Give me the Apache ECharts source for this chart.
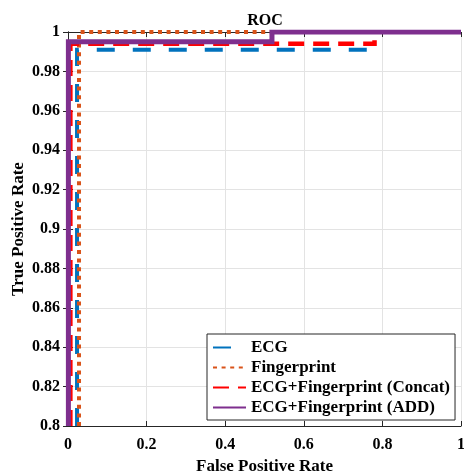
<!DOCTYPE html>
<html>
<head>
<meta charset="utf-8">
<script src="https://cdn.jsdelivr.net/npm/echarts@6/dist/echarts.min.js"></script>
<style>
  html, body { margin: 0; padding: 0; background: #fff; }
  #main { width: 464px; height: 471px; }
</style>
</head>
<body>
<div id="main"></div>
<script>
// ROC curves, points as [FPR, TPR]
const ecg = [[0.023, 0.8], [0.023, 0.991], [0.776, 0.991], [0.776, 0.9925]];
const fingerprint = [[0.028, 0.8], [0.028, 1], [1, 1]];
const concat = [[0.006, 0.8], [0.006, 0.994], [0.78, 0.994], [0.78, 0.9958]];
const added = [[0.001, 0.8], [0.001, 0.995], [0.519, 0.995], [0.519, 1], [1, 1]];

const seriesNames = ['ECG', 'Fingerprint', 'ECG+Fingerprint (Concat)', 'ECG+Fingerprint (ADD)'];
const xTicks = [0, 0.2, 0.4, 0.6, 0.8, 1];

const font = 'Liberation Serif';
const axisCol = '#262626';

var chart = echarts.init(document.getElementById('main'));

function lineSeries(name, data, color, width, dash) {
  return {
    name: name,
    type: 'line',
    data: data,
    symbol: 'none',
    clip: true,
    lineStyle: { color: color, width: width, type: dash, cap: 'butt', join: 'miter' },
    itemStyle: { color: color }
  };
}

var option = {
  animation: false,
  title: {
    text: 'ROC',
    left: 260,
    top: 8,
    textAlign: 'center',
    textStyle: { fontFamily: font, fontWeight: 'bold', fontSize: 16, color: '#000' }
  },
  grid: { left: 68, right: 3, top: 32, bottom: 45, containLabel: false, outerBoundsMode: 'none' },
  legend: {
    orient: 'vertical',
    left: 207,
    top: 334,
    data: seriesNames,
    backgroundColor: '#fff',
    borderColor: axisCol,
    borderWidth: 1,
    padding: [5, 5, 4, 5],
    itemWidth: 33,
    itemHeight: 14,
    itemGap: 3,
    itemStyle: { color: 'rgba(0,0,0,0)', borderWidth: 0, opacity: 0 },
    textStyle: { fontFamily: font, fontWeight: 'bold', fontSize: 17, color: '#000' }
  },
  xAxis: [{
    type: 'value',
    min: 0, max: 1, interval: 0.2,
    name: 'False Positive Rate',
    nameLocation: 'middle',
    nameGap: 29,
    nameTextStyle: { fontFamily: font, fontWeight: 'bold', fontSize: 17, color: '#000' },
    axisLine: { show: true, onZero: false, lineStyle: { color: axisCol } },
    axisTick: { show: true, inside: true, length: 5, lineStyle: { color: axisCol } },
    axisLabel: {
      fontFamily: font, fontWeight: 'bold', fontSize: 16, color: '#000', margin: 11,
      formatter: function (v) { return xTicks.indexOf(+v.toFixed(1)) >= 0 ? String(+v.toFixed(1)) : ''; }
    },
    splitLine: { show: true, lineStyle: { color: '#e3e3e3' } }
  }, {
    type: 'value', position: 'top',
    min: 0, max: 1, interval: 0.2,
    axisLine: { show: true, lineStyle: { color: axisCol } },
    axisTick: { show: true, inside: true, length: 5, lineStyle: { color: axisCol } },
    axisLabel: { show: false },
    splitLine: { show: false }
  }],
  yAxis: [{
    type: 'value',
    min: 0.8, max: 1, interval: 0.02,
    name: 'True Positive Rate',
    nameLocation: 'middle',
    nameGap: 41,
    nameMoveOverlap: false,
    nameTextStyle: { fontFamily: font, fontWeight: 'bold', fontSize: 17, color: '#000' },
    axisLine: { show: true, onZero: false, lineStyle: { color: axisCol } },
    axisTick: { show: true, inside: true, length: 5, lineStyle: { color: axisCol } },
    axisLabel: {
      fontFamily: font, fontWeight: 'bold', fontSize: 16, color: '#000', margin: 8,
      formatter: function (v) { return String(+v.toFixed(2)); }
    },
    splitLine: { show: true, lineStyle: { color: '#e3e3e3' } }
  }, {
    type: 'value', position: 'right',
    min: 0.8, max: 1, interval: 0.02,
    axisLine: { show: true, lineStyle: { color: axisCol } },
    axisTick: { show: true, inside: true, length: 5, lineStyle: { color: axisCol } },
    axisLabel: { show: false },
    splitLine: { show: false }
  }],
  series: [
    lineSeries(seriesNames[0], ecg, '#0072BD', 4, [18, 18]),
    lineSeries(seriesNames[1], fingerprint, '#D95319', 4, [4, 4.6]),
    lineSeries(seriesNames[2], concat, '#FF0000', 4.5, [16, 9]),
    lineSeries(seriesNames[3], added, '#7E2F8E', 5, 'solid')
  ]
};

chart.setOption(option);
</script>
</body>
</html>
